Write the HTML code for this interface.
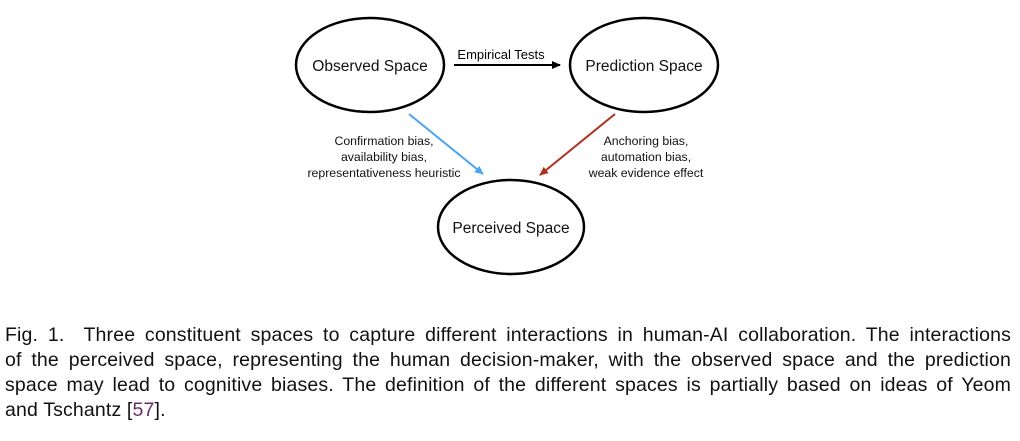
<!DOCTYPE html>
<html><head><meta charset="utf-8"><style>
body{margin:0;width:1020px;height:441px;background:#fff;position:relative;overflow:hidden}
.cap{position:absolute;left:5px;width:1006px;font-family:"Liberation Sans",sans-serif;font-size:19.5px;letter-spacing:0.15px;color:#111;text-align:justify;text-align-last:justify;white-space:nowrap;line-height:25px}
.cap.last{text-align-last:left}
</style></head><body>
<svg width="1020" height="300" style="position:absolute;left:0;top:0" font-family="Liberation Sans, sans-serif">
<defs>
<marker id="ak" markerWidth="10" markerHeight="10" refX="8" refY="5" orient="auto" markerUnits="userSpaceOnUse"><path d="M0,1 L9,5 L0,9 Z" fill="#000"/></marker>
<marker id="ab" markerWidth="10" markerHeight="10" refX="8" refY="5" orient="auto" markerUnits="userSpaceOnUse"><path d="M0,1 L9,5 L0,9 Z" fill="#4aa3f5"/></marker>
<marker id="ar" markerWidth="10" markerHeight="10" refX="8" refY="5" orient="auto" markerUnits="userSpaceOnUse"><path d="M0,1 L9,5 L0,9 Z" fill="#b03020"/></marker>
</defs>
<g fill="#fff" stroke="#000" stroke-width="2.5">
<ellipse cx="370" cy="65" rx="74" ry="47"/>
<ellipse cx="644" cy="65" rx="74" ry="47"/>
<ellipse cx="511" cy="227" rx="73" ry="47"/>
</g>
<g font-size="15.5" text-anchor="middle" fill="#111">
<text x="370" y="71">Observed Space</text>
<text x="644" y="71">Prediction Space</text>
<text x="511" y="233">Perceived Space</text>
</g>
<text x="501" y="59" font-size="13" text-anchor="middle">Empirical Tests</text>
<line x1="454" y1="65" x2="560" y2="65" stroke="#000" stroke-width="2" marker-end="url(#ak)"/>
<line x1="409" y1="114" x2="483" y2="174" stroke="#4aa3f5" stroke-width="2" marker-end="url(#ab)"/>
<line x1="615" y1="114" x2="540" y2="175" stroke="#b03020" stroke-width="2" marker-end="url(#ar)"/>
<g font-size="12.3" text-anchor="middle" fill="#111">
<text x="384" y="145">Confirmation bias,</text>
<text x="384" y="161">availability bias,</text>
<text x="384" y="177">representativeness heuristic</text>
<text x="646" y="145">Anchoring bias,</text>
<text x="646" y="161">automation bias,</text>
<text x="646" y="177">weak evidence effect</text>
</g>
</svg>
<div class="cap" style="top:323px">Fig. 1.&nbsp; Three constituent spaces to capture different interactions in human-AI collaboration. The interactions</div>
<div class="cap" style="top:348px">of the perceived space, representing the human decision-maker, with the observed space and the prediction</div>
<div class="cap" style="top:373px">space may lead to cognitive biases. The definition of the different spaces is partially based on ideas of Yeom</div>
<div class="cap last" style="top:398px">and Tschantz [<span style="color:#6a2a6a">57</span>].</div>
</body></html>
